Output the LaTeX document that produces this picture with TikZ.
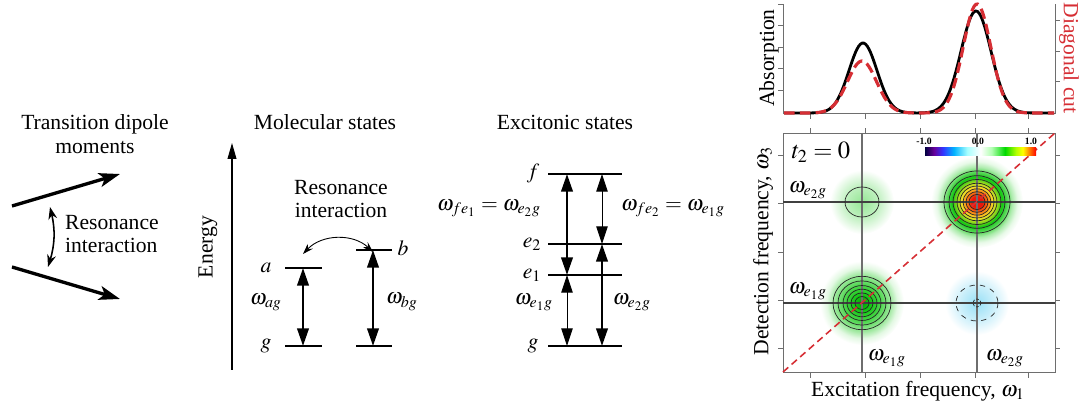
\documentclass[tikz,border=0pt]{standalone}
\usepackage{mathptmx}
\usepackage[no-math]{fontspec}
\setmainfont{Liberation Serif}
\usetikzlibrary{arrows.meta,positioning}
\definecolor{cutred}{RGB}{214,46,52}
\definecolor{axgray}{RGB}{110,110,110}
\definecolor{pkred}{RGB}{235,20,10}
\definecolor{pkorange}{RGB}{250,130,20}
\definecolor{pkyellow}{RGB}{245,225,40}
\definecolor{pkyg}{RGB}{150,215,30}
\definecolor{pkgreen}{RGB}{20,200,20}
\definecolor{pkdark}{RGB}{0,165,0}
\definecolor{pkcyan}{RGB}{140,220,245}
\pgfdeclareradialshading{redpeak}{\pgfpoint{0bp}{0bp}}{color(0bp)=(pkred); color(3bp)=(pkred); color(6bp)=(pkorange); color(8.5bp)=(pkyellow); color(11bp)=(pkyg); color(13.5bp)=(pkgreen); color(16bp)=(pkgreen!75!white); color(19bp)=(pkgreen!35!white); color(22bp)=(pkgreen!10!white); color(25bp)=(white); color(50bp)=(white)}
\pgfdeclareradialshading{greenpeak}{\pgfpoint{0bp}{0bp}}{color(0bp)=(pkdark); color(5bp)=(pkgreen); color(11bp)=(pkgreen!75!white); color(17bp)=(pkgreen!40!white); color(21bp)=(pkgreen!12!white); color(25bp)=(white); color(50bp)=(white)}
\pgfdeclareradialshading{weakgreen}{\pgfpoint{0bp}{0bp}}{color(0bp)=(pkgreen!45!white); color(12bp)=(pkgreen!28!white); color(25bp)=(white); color(50bp)=(white)}
\pgfdeclareradialshading{weakblue}{\pgfpoint{0bp}{0bp}}{color(0bp)=(pkcyan!90!white); color(12bp)=(pkcyan!50!white); color(25bp)=(white); color(50bp)=(white)}
\pgfdeclarehorizontalshading{specbar}{100bp}{color(0bp)=(black!80!blue); color(25bp)=(black!75!blue); color(29bp)=(violet!80!blue); color(33bp)=(blue!80!white); color(38bp)=(cyan!70!blue); color(44bp)=(cyan!35!white); color(50bp)=(white); color(55bp)=(green!30!white); color(61bp)=(green!85!black); color(66bp)=(yellow!70!green); color(69bp)=(yellow); color(72bp)=(orange); color(75bp)=(red); color(100bp)=(red)}

\begin{document}
\begin{tikzpicture}[x=0.02cm,y=-0.02cm,>={Triangle[length=10pt,width=6.5pt]},
    every node/.style={font=\fontsize{12.3}{14}\selectfont,inner sep=1pt},
    level/.style={line width=1.7pt},
    dipole/.style={line width=1.9pt,-{Stealth[length=12pt,width=8pt,inset=3pt]}},
    thickarr/.style={line width=1.4pt,<->},
    thinarr/.style={line width=0.5pt,<->},
    axisline/.style={axgray,line width=0.5pt},
    contour/.style={black!85,line width=0.4pt}]
    \useasboundingbox (0,0) rectangle (1083,405);
    % transition dipoles
    \node[align=center] (tdm) at (95,134) {Transition dipole\\moments};
    \coordinate (d1s) at (12,206); \coordinate (d1e) at (120,174);
    \coordinate (d2s) at (12,267); \coordinate (d2e) at (120,299);
    \draw[dipole] (d1s) -- (d1e);
    \draw[dipole] (d2s) -- (d2e);
    \coordinate (r1) at (50,207); \coordinate (r2) at (48,267);
    \draw[line width=0.9pt,{Stealth[length=7pt,width=5pt]}-{Stealth[length=7pt,width=5pt]}] (r1) to[bend left=15] (r2);
    \node[align=left,anchor=west,font=\fontsize{12.3}{13}\selectfont] (ri1) at (63,234) {Resonance\\interaction};
    % molecular states
    \node (mol) at (325,122) {Molecular states};
    \coordinate (ebot) at (232,370); \coordinate (etop) at (232,143);
    \draw[line width=0.6pt,-{Triangle[length=9pt,width=5pt]}] (ebot) -- (etop);
    \node[rotate=90] (en) at (208,247) {Energy};
    \coordinate (a1) at (285,268); \coordinate (a2) at (322,268);
    \coordinate (b1) at (356,250); \coordinate (b2) at (392,250);
    \coordinate (ga1) at (285,346); \coordinate (ga2) at (322,346);
    \coordinate (gb1) at (356,346); \coordinate (gb2) at (392,346);
    \foreach \l in {a,b,ga,gb} \draw[level] (\l1) -- (\l2);
    \coordinate (aa) at (303,268); \coordinate (ag) at (303,346);
    \coordinate (bb) at (373,250); \coordinate (bg) at (373,346);
    \draw[thickarr] (aa) -- (ag);
    \draw[thickarr] (bb) -- (bg);
    \node (la) at (266,268) {$a$};
    \node (lb) at (403,248) {$b$};
    \node (lg) at (266,346) {$g$};
    \node (wag) at (266,302) {$\omega_{ag}$};
    \node (wbg) at (402,302) {$\omega_{bg}$};
    \node[align=center,font=\fontsize{12.3}{13}\selectfont] (ri2) at (341,199) {Resonance\\interaction};
    \coordinate (c1) at (303,254); \coordinate (c2) at (373,252);
    \draw[line width=0.5pt,{Stealth[length=6pt,width=4pt]}-{Stealth[length=6pt,width=4pt]}] (c1) to[bend left=45] (c2);
    % excitonic states
    \node (exc) at (565,122) {Excitonic states};
    \foreach \l/\y in {f/174,e/244,d/275,h/346} {
        \coordinate (\l1) at (548,\y); \coordinate (\l2) at (622,\y);
        \coordinate (\l L) at (567,\y); \coordinate (\l R) at (602,\y);
        \draw[level] (\l1) -- (\l2);
    }
    \draw[thickarr] (fL) -- (dL);
    \draw[thinarr] (fR) -- (eR);
    \draw[thinarr] (dL) -- (hL);
    \draw[thickarr] (eR) -- (hR);
    \node (lf) at (533,174) {$f$};
    \node (le2) at (532,244) {$e_2$};
    \node (le1) at (532,275) {$e_1$};
    \node (lgx) at (533,346) {$g$};
    \node (wfe1) at (489,208) {$\omega_{fe_1}=\omega_{e_2g}$};
    \node (wfe2) at (673,208) {$\omega_{fe_2}=\omega_{e_1g}$};
    \node (we1) at (534,302) {$\omega_{e_1g}$};
    \node (we2) at (632,302) {$\omega_{e_2g}$};
    % absorption and diagonal cut
    \draw[axisline] (783,4) -- (783,113) -- (1055,113) -- (1055,4);
    \foreach \y in {4,25,47,68,90} \draw[axisline] (783,\y) -- (778,\y);
    \foreach \y in {20,51,81} \draw[axisline] (1055,\y) -- (1060,\y);
    \foreach \x in {810,865,920,975,1028} \draw[axisline] (\x,113) -- (\x,119);
    \draw[line width=1.6pt,domain=784:1054,samples=160]
        plot (\x,{113-70*exp(-min(((\x-863)/19.8)*((\x-863)/19.8),30))-102*exp(-min(((\x-976)/21.2)*((\x-976)/21.2),30))});
    \draw[cutred,line width=1.8pt,dash pattern=on 6pt off 3pt,domain=784:1054,samples=160]
        plot (\x,{113-52*exp(-min(((\x-862)/20.5)*((\x-862)/20.5),30))-109*exp(-min(((\x-977)/19.5)*((\x-977)/19.5),30))});
    \node[rotate=90] (abs) at (769,58) {Absorption};
    \node[rotate=-90,text=cutred] (dcut) at (1069,58) {Diagonal cut};
    % 2D spectrum
    \coordinate (p11) at (862,303); \coordinate (p22) at (977,202);
    \coordinate (p12) at (862,202); \coordinate (p21) at (977,303);
    \shade[shading=redpeak] (p22) circle (46);
    \shade[shading=greenpeak] (p11) circle (42);
    \shade[shading=weakgreen] (p12) circle (32);
    \shade[shading=weakblue] (p21) circle (32);
    \draw[axisline] (783,133) rectangle (1055,372);
    \foreach \x in {810,865,920,975,1028} {
        \draw[axisline] (\x,372) -- (\x,378);
        \draw[axisline] (\x,133) -- (\x,128);
    }
    \foreach \y in {155,203,252,300,348} {
        \draw[axisline] (783,\y) -- (778,\y);
        \draw[axisline] (1055,\y) -- (1060,\y);
    }
    \draw[axisline,line width=0.7pt] (862,133) -- (862,372) (977,133) -- (977,372);
    \draw[black!75,line width=0.7pt] (783,202) -- (1055,202) (783,303) -- (1055,303);
    \foreach \r in {33,28,24,20,17,14,11,8}
        \draw[contour] (p22) ellipse [x radius=\r, y radius=0.94*\r];
    \foreach \r in {29,24,19,15,11,7}
        \draw[contour] (p11) ellipse [x radius=\r, y radius=0.92*\r];
    \draw[contour] (p12) ellipse [x radius=17, y radius=15];
    \draw[contour,dashed] (p21) ellipse [x radius=21, y radius=18];
    \draw[contour,dash pattern=on 1.5pt off 1pt] (p21) circle (4);
    \coordinate (dg1) at (783,372); \coordinate (dg2) at (1055,133);
    \draw[cutred,line width=0.9pt,dash pattern=on 4pt off 2.5pt] (dg1) -- (dg2);
    \shade[shading=specbar] (925,148) rectangle (1036,156);
    \foreach \v/\x in {-1.0/924,0.0/978,1.0/1031}
        \node[font=\fontsize{5.5}{6}\selectfont\bfseries] at (\x,141) {\v};
    \node[font=\fontsize{14}{16}\selectfont] (t2) at (821,152) {$t_2=0$};
    \node (w2l) at (808,190) {$\omega_{e_2g}$};
    \node (w1l) at (808,291) {$\omega_{e_1g}$};
    \node (w1b) at (887,358) {$\omega_{e_1g}$};
    \node (w2b) at (1005,358) {$\omega_{e_2g}$};
    \node[rotate=90] (det) at (763,251) {Detection frequency, $\omega_3$};
    \node (excf) at (918,391) {Excitation frequency, $\omega_1$};
\end{tikzpicture}
\end{document}
